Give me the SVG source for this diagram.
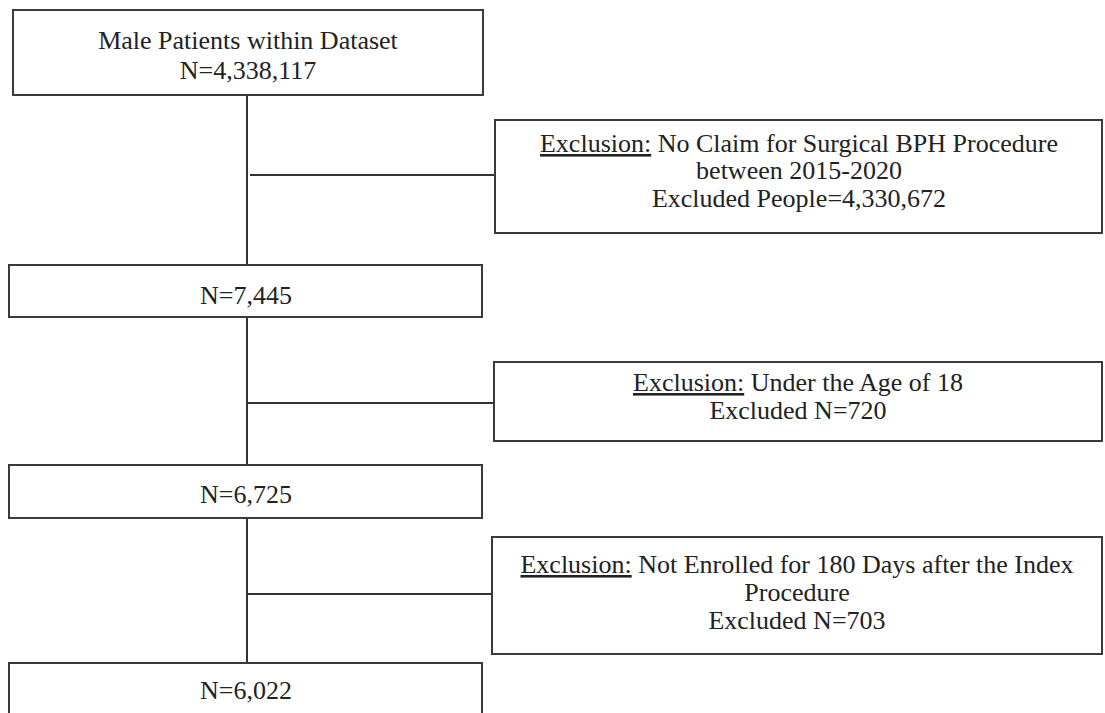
<svg xmlns="http://www.w3.org/2000/svg" width="1105" height="713" viewBox="0 0 1105 713">
<style>
.box{fill:#ffffff;stroke:#3a3a3a;stroke-width:2}
.ln{stroke:#333333;stroke-width:2;fill:none}
text{font-family:"Liberation Serif","Times New Roman",serif;font-size:26px;fill:#222222;text-anchor:middle}
.u{text-decoration:underline}
</style>
<rect width="1105" height="713" fill="#ffffff"/>
<g id="connectors">
<line class="ln" x1="247" y1="95" x2="247" y2="265"/>
<line class="ln" x1="250" y1="175" x2="495" y2="175"/>
<line class="ln" x1="247" y1="317" x2="247" y2="465"/>
<line class="ln" x1="247" y1="403" x2="494" y2="403"/>
<line class="ln" x1="247" y1="518" x2="247" y2="663"/>
<line class="ln" x1="247" y1="594" x2="492" y2="594"/>
</g>
<g id="n1">
<rect class="box" x="13" y="10" width="470" height="85"/>
<text x="248" y="49">Male Patients within Dataset</text>
<text x="248" y="79">N=4,338,117</text>
</g>
<g id="e1">
<rect class="box" x="495" y="120" width="607" height="113"/>
<text x="799" y="152"><tspan class="u">Exclusion:</tspan> No Claim for Surgical BPH Procedure</text>
<text x="799" y="179">between 2015-2020</text>
<text x="799" y="207">Excluded People=4,330,672</text>
</g>
<g id="n2">
<rect class="box" x="9" y="265" width="473" height="52"/>
<text x="246" y="304">N=7,445</text>
</g>
<g id="e2">
<rect class="box" x="494" y="362" width="608" height="79"/>
<text x="798" y="391"><tspan class="u">Exclusion:</tspan> Under the Age of 18</text>
<text x="798" y="419">Excluded N=720</text>
</g>
<g id="n3">
<rect class="box" x="9" y="465" width="473" height="53"/>
<text x="246" y="503">N=6,725</text>
</g>
<g id="e3">
<rect class="box" x="492" y="537" width="610" height="117"/>
<text x="797" y="573"><tspan class="u">Exclusion:</tspan> Not Enrolled for 180 Days after the Index</text>
<text x="797" y="601">Procedure</text>
<text x="797" y="629">Excluded N=703</text>
</g>
<g id="n4">
<rect class="box" x="9" y="663" width="473" height="60"/>
<text x="246" y="699">N=6,022</text>
</g>
</svg>
